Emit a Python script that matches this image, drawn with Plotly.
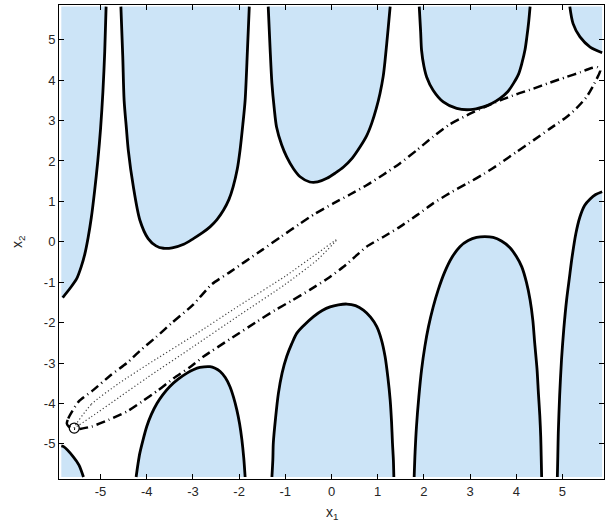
import plotly.graph_objects as go

# contour boundaries of the feasible (shaded) regions
upper_a_x = [-5.82, -5.66, -5.52, -5.42, -5.34, -5.27, -5.20, -5.13, -5.06, -5.00, -4.95, -4.91, -4.88]
upper_a_y = [-1.38, -1.15, -0.92, -0.62, -0.30, 0.10, 0.60, 1.25, 2.00, 2.80, 3.70, 4.70, 5.82]

upper_b_x = [-4.56, -4.52, -4.49, -4.44, -4.40, -4.29, -4.15, -3.97, -3.80, -3.64, -3.45, -3.20,
             -2.99, -2.80, -2.63, -2.48, -2.34, -2.22, -2.13, -2.04, -1.98, -1.92, -1.87, -1.82, -1.78]
upper_b_y = [5.82, 4.60, 3.50, 2.80, 2.27, 1.36, 0.54, 0.08, -0.10, -0.16, -0.15, -0.06,
             0.08, 0.22, 0.37, 0.55, 0.78, 1.05, 1.36, 1.80, 2.27, 2.90, 3.50, 4.74, 5.82]

upper_c_x = [-1.37, -1.33, -1.29, -1.24, -1.19, -1.08, -0.97, -0.82, -0.68, -0.47, -0.30, -0.10,
             0.08, 0.26, 0.45, 0.62, 0.76, 0.87, 0.97, 1.05, 1.12, 1.16, 1.23, 1.27]
upper_c_y = [5.82, 4.80, 3.92, 3.30, 2.84, 2.40, 2.10, 1.80, 1.61, 1.48, 1.48, 1.57,
             1.70, 1.85, 2.07, 2.35, 2.62, 2.93, 3.30, 3.67, 4.10, 4.49, 5.32, 5.82]

upper_d_x = [1.90, 1.93, 1.95, 2.00, 2.06, 2.20, 2.42, 2.71, 3.00, 3.29, 3.48, 3.65, 3.82, 3.94,
             4.05, 4.12, 4.19, 4.23, 4.27, 4.30]
upper_d_y = [5.82, 5.20, 4.74, 4.35, 4.08, 3.75, 3.46, 3.30, 3.27, 3.34, 3.43, 3.55, 3.72, 3.92,
             4.15, 4.41, 4.75, 5.07, 5.45, 5.82]

upper_e_x = [5.16, 5.23, 5.38, 5.60, 5.86]
upper_e_y = [5.82, 5.40, 5.07, 4.82, 4.68]

lower_a_x = [-5.85, -5.80, -5.59, -5.47, -5.37]
lower_a_y = [-5.05, -5.07, -5.32, -5.52, -5.82]

lower_b_x = [-4.23, -4.19, -4.15, -4.08, -4.00, -3.90, -3.78, -3.65, -3.50, -3.32, -3.13, -2.98,
             -2.85, -2.63, -2.52, -2.41, -2.30, -2.20, -2.12, -2.05, -1.99, -1.94, -1.90, -1.87]
lower_b_y = [-5.82, -5.50, -5.23, -4.90, -4.57, -4.27, -4.00, -3.78, -3.58, -3.40, -3.25, -3.16,
             -3.11, -3.09, -3.13, -3.21, -3.36, -3.58, -3.85, -4.16, -4.50, -4.90, -5.35, -5.82]

lower_c_x = [-1.29, -1.27, -1.26, -1.21, -1.15, -1.07, -0.97, -0.86, -0.75, -0.60, -0.39, -0.20,
             -0.03, 0.15, 0.33, 0.52, 0.69, 0.85, 0.98, 1.08, 1.16, 1.22, 1.27, 1.30, 1.32, 1.34, 1.35]
lower_c_y = [-5.82, -5.40, -4.98, -4.35, -3.75, -3.25, -2.84, -2.52, -2.26, -2.07, -1.85, -1.70,
             -1.61, -1.56, -1.54, -1.58, -1.69, -1.87, -2.10, -2.42, -2.84, -3.35, -3.91, -4.45,
             -4.98, -5.40, -5.82]

lower_d_x = [1.79, 1.81, 1.84, 1.89, 1.95, 2.02, 2.10, 2.20, 2.31, 2.45, 2.60, 2.78, 2.96, 3.14,
             3.32, 3.50, 3.68, 3.86, 4.00, 4.12, 4.22, 4.30, 4.36, 4.40, 4.45, 4.48, 4.51, 4.53,
             4.54, 4.55]
lower_d_y = [-5.82, -5.20, -4.57, -3.85, -3.17, -2.60, -2.10, -1.62, -1.19, -0.75, -0.40, -0.12,
             0.03, 0.11, 0.13, 0.11, 0.02, -0.14, -0.36, -0.62, -1.00, -1.44, -1.95, -2.51,
             -3.15, -3.75, -4.30, -4.82, -5.30, -5.82]

lower_e_x = [4.89, 4.90, 4.91, 4.94, 4.98, 5.03, 5.09, 5.15, 5.20, 5.29, 5.38, 5.48, 5.60, 5.72, 5.86]
lower_e_y = [-5.82, -5.30, -4.74, -3.80, -2.92, -2.15, -1.44, -0.90, -0.45, 0.20, 0.62, 0.90,
             1.06, 1.17, 1.24]

# dash-dot closed curve
loop_x = [-5.73, -5.70, -5.48, -5.16, -4.79, -4.43, -4.15, -3.80, -3.45, -3.00, -2.59, -2.20,
          -1.87, -1.50, -1.10, -0.68, -0.35, 0.04, 0.40, 0.76, 1.12, 1.48, 1.85, 2.20, 2.55,
          2.93, 3.30, 3.65, 4.00, 4.37, 4.73, 5.09, 5.40, 5.60, 5.75, 5.82,
          5.78, 5.66, 5.52, 5.30, 5.09, 4.73, 4.37, 4.00, 3.65, 3.30, 2.93, 2.55, 2.20, 1.85,
          1.48, 1.12, 0.76, 0.50, 0.26, -0.10, -0.47, -0.85, -1.22, -1.62, -2.20, -2.77, -3.06,
          -3.42, -3.75, -4.11, -4.43, -4.83, -5.19, -5.45, -5.60, -5.69, -5.73]
loop_y = [-4.50, -4.37, -3.96, -3.67, -3.31, -3.00, -2.70, -2.36, -2.00, -1.56, -1.05, -0.75,
          -0.49, -0.20, 0.12, 0.45, 0.70, 0.95, 1.17, 1.40, 1.66, 1.94, 2.27, 2.60, 2.90,
          3.13, 3.33, 3.50, 3.65, 3.79, 3.94, 4.08, 4.20, 4.29, 4.32, 4.24,
          4.12, 3.85, 3.58, 3.30, 3.09, 2.80, 2.51, 2.22, 1.94, 1.68, 1.44, 1.20, 0.95, 0.66,
          0.37, 0.12, -0.12, -0.38, -0.62, -0.92, -1.19, -1.45, -1.69, -1.98, -2.41, -2.84, -3.10,
          -3.38, -3.67, -3.96, -4.20, -4.41, -4.57, -4.63, -4.62, -4.57, -4.50]

# thin dotted loop
dot_x = [-5.57, -5.20, -4.60, -4.00, -3.00, -2.00, -1.00, -0.30, 0.12,
         -0.30, -1.00, -2.00, -3.00, -4.00, -4.60, -5.20, -5.57]
dot_y = [-4.60, -4.02, -3.50, -3.05, -2.33, -1.58, -0.85, -0.28, 0.06,
         -0.44, -1.05, -1.82, -2.60, -3.37, -3.85, -4.33, -4.60]

start_x = [-5.57]
start_y = [-4.61]

ticks = [-5, -4, -3, -2, -1, 0, 1, 2, 3, 4, 5]

X_LO, X_HI, Y_LO, Y_HI = -5.85, 5.86, -5.82, 5.82
FILL = "#cce4f7"
FONT = "Liberation Sans, Arial"

regions = [
    (upper_a_x, upper_a_y, [(X_LO, Y_HI), (X_LO, upper_a_y[0])]),
    (upper_b_x, upper_b_y, []),
    (upper_c_x, upper_c_y, []),
    (upper_d_x, upper_d_y, []),
    (upper_e_x, upper_e_y, [(X_HI, Y_HI)]),
    (lower_a_x, lower_a_y, [(X_LO, Y_LO)]),
    (lower_b_x, lower_b_y, []),
    (lower_c_x, lower_c_y, []),
    (lower_d_x, lower_d_y, []),
    (lower_e_x, lower_e_y, [(X_HI, Y_LO)]),
]

fig = go.Figure()

for xs, ys, extra in regions:
    px = list(xs) + [c[0] for c in extra]
    py = list(ys) + [c[1] for c in extra]
    fig.add_trace(go.Scatter(x=px, y=py, mode="lines", fill="toself",
                             fillcolor=FILL, line=dict(width=0), hoverinfo="skip"))

for xs, ys, extra in regions:
    fig.add_trace(go.Scatter(x=xs, y=ys, mode="lines",
                             line=dict(color="black", width=2.8, shape="spline", smoothing=0.8),
                             hoverinfo="skip"))

fig.add_trace(go.Scatter(x=loop_x, y=loop_y, mode="lines",
                         line=dict(color="black", width=2.5, dash="9px,4px,1px,4px",
                                   shape="spline", smoothing=0.6)))

fig.add_trace(go.Scatter(x=dot_x, y=dot_y, mode="lines",
                         line=dict(color="#444444", width=1.2, dash="1.2px,2.3px",
                                   shape="spline", smoothing=0.6)))

fig.add_trace(go.Scatter(x=start_x, y=start_y, mode="markers",
                         marker=dict(symbol="circle-open", size=10, color="black",
                                     line=dict(width=1.3))))

axis_style = dict(
    showgrid=False, zeroline=False, showline=True, linecolor="black", linewidth=1,
    mirror="ticks", ticks="inside", ticklen=5, tickcolor="black",
    tickvals=ticks, ticktext=[str(t) for t in ticks], automargin=False,
    tickfont=dict(family=FONT, size=13, color="#262626"),
)

fig.update_xaxes(range=[-5.9, 5.9], **axis_style)
fig.update_yaxes(range=[-5.87, 5.86], **axis_style)

fig.add_annotation(text="x<sub>1</sub>", xref="paper", yref="paper", x=0.5, y=0,
                   xanchor="center", yanchor="top", yshift=-23, showarrow=False,
                   font=dict(family=FONT, size=14, color="#262626"))
fig.add_annotation(text="x<sub>2</sub>", xref="paper", yref="paper", x=0, y=0.5,
                   xanchor="center", yanchor="middle", xshift=-41, textangle=-90,
                   showarrow=False, font=dict(family=FONT, size=14, color="#262626"))

fig.update_layout(
    width=613, height=525,
    margin=dict(l=59, r=9, t=5, b=46),
    plot_bgcolor="white", paper_bgcolor="white",
    showlegend=False,
)

# the page's default body margin would push the figure 8px right and down
fig.write_html("out.html", config={"displayModeBar": False},
               post_script="document.body.style.margin='0';")
